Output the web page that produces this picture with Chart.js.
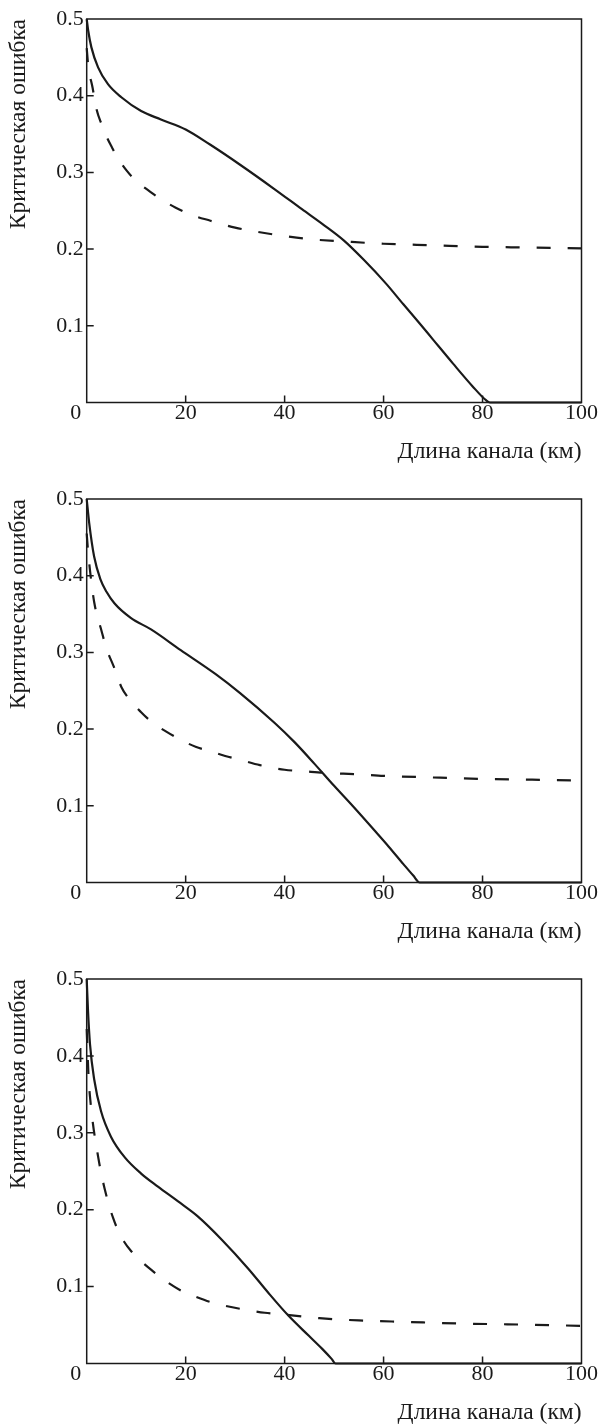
<!DOCTYPE html>
<html>
<head>
<meta charset="utf-8">
<script src="https://cdn.jsdelivr.net/npm/chart.js@4.4.1/dist/chart.umd.min.js"></script>
<style>
  body { margin: 0; background: #fff; }
  canvas { display: block; }
</style>
</head>
<body>
<canvas id="chart-1" width="598" height="480"></canvas>
<canvas id="chart-2" width="598" height="480"></canvas>
<canvas id="chart-3" width="598" height="465"></canvas>
<script>
// tick labels
var xTicks = [0, 20, 40, 60, 80, 100];
var yTicks = [0.1, 0.2, 0.3, 0.4, 0.5];

// panel 1
var km1Solid = [0, 0.3, 0.95, 2.3, 4.3, 7, 11, 15, 20, 25, 31, 38, 43.5, 48, 52, 56, 60.5, 64, 67.3, 70, 74, 78, 80.7, 81.5, 90, 100];
var err1Solid = [0.5, 0.485, 0.463, 0.437, 0.415, 0.398, 0.38, 0.369, 0.356, 0.336, 0.31, 0.278, 0.252, 0.231, 0.211, 0.186, 0.155, 0.128, 0.103, 0.082, 0.051, 0.021, 0.003, 0, 0, 0];
var km1Dash = [0, 0.3, 1.2, 2, 3, 4, 5, 6, 8, 10, 13, 15, 18, 21, 25, 30, 35, 40, 45, 52, 60, 70, 80, 90, 100];
var err1Dash = [0.462, 0.44, 0.41, 0.382, 0.363, 0.347, 0.334, 0.322, 0.303, 0.289, 0.274, 0.265, 0.254, 0.245, 0.237, 0.228, 0.222, 0.217, 0.213, 0.21, 0.207, 0.205, 0.203, 0.202, 0.201];

// panel 2
var km2Solid = [0, 0.5, 1.5, 2.8, 4, 5.6, 8.9, 13, 19, 26, 31, 38, 42, 46, 50, 54, 58, 61, 64, 66, 67.3, 80, 100];
var err2Solid = [0.5, 0.469, 0.425, 0.395, 0.379, 0.364, 0.345, 0.33, 0.303, 0.272, 0.247, 0.208, 0.183, 0.155, 0.126, 0.098, 0.069, 0.047, 0.024, 0.009, 0, 0, 0];
var km2Dash = [0, 0.3, 0.7, 1.5, 3, 4, 5.5, 7, 9, 11, 13, 16, 19, 22, 25, 28, 31, 35, 40, 44, 48, 55, 60, 70, 80, 90, 100];
var err2Dash = [0.455, 0.43, 0.405, 0.366, 0.328, 0.305, 0.281, 0.255, 0.236, 0.222, 0.21, 0.197, 0.186, 0.177, 0.171, 0.165, 0.16, 0.153, 0.147, 0.145, 0.143, 0.141, 0.139, 0.137, 0.135, 0.134, 0.133];

// panel 3
var km3Solid = [0, 0.27, 0.67, 1.5, 2.9, 4.9, 7.7, 11, 14.4, 18.4, 22.5, 27.3, 32.7, 36.7, 40.8, 44.9, 47.6, 49.5, 50.3, 70, 100];
var err3Solid = [0.5, 0.458, 0.415, 0.37, 0.328, 0.295, 0.268, 0.247, 0.23, 0.211, 0.191, 0.161, 0.123, 0.092, 0.062, 0.036, 0.019, 0.006, 0, 0, 0];
var km3Dash = [0, 0.2, 0.4, 0.8, 1.2, 1.7, 2.2, 2.9, 3.6, 4.5, 5.3, 6.2, 7.5, 9, 11, 13, 16, 19, 22, 25, 28, 32, 36, 41, 47, 55, 65, 75, 85, 100];
var err3Dash = [0.435, 0.4, 0.37, 0.338, 0.315, 0.292, 0.273, 0.248, 0.228, 0.206, 0.19, 0.175, 0.159, 0.146, 0.133, 0.122, 0.107, 0.095, 0.087, 0.08, 0.075, 0.07, 0.066, 0.063, 0.059, 0.056, 0.054, 0.052, 0.051, 0.049];

var ink = "#1a1a1a";
var serif = "'Liberation Serif', 'Times New Roman', serif";

function pairs(xs, ys) {
  return xs.map(function (x, i) {
    return { x: x, y: ys[i] };
  });
}

// frame round the plot, inward ticks and the "0" left of the origin
var framePlugin = {
  id: "frame",
  afterDatasetsDraw: function (chart) {
    var ctx = chart.ctx;
    var a = chart.chartArea;
    var xs = chart.scales.x;
    var ys = chart.scales.y;
    ctx.save();
    ctx.strokeStyle = ink;
    ctx.lineWidth = 1.5;
    ctx.strokeRect(a.left, a.top, a.right - a.left, a.bottom - a.top);
    ctx.beginPath();
    xTicks.forEach(function (v) {
      if (v <= xs.min || v >= xs.max) return;
      var px = xs.getPixelForValue(v);
      ctx.moveTo(px, a.bottom);
      ctx.lineTo(px, a.bottom - 7);
    });
    yTicks.forEach(function (v) {
      if (v <= ys.min || v >= ys.max) return;
      var py = ys.getPixelForValue(v);
      ctx.moveTo(a.left, py);
      ctx.lineTo(a.left + 7, py);
    });
    ctx.stroke();
    ctx.fillStyle = ink;
    ctx.font = "22px " + serif;
    ctx.textAlign = "center";
    ctx.textBaseline = "middle";
    ctx.fillText("0", a.left - 11, xs.top + 11);
    ctx.restore();
  },
};

function makePanel(id, kmSolid, errSolid, kmDash, errDash, bottomPad) {
  var ctx = document.getElementById(id).getContext("2d");
  new Chart(ctx, {
    type: "line",
    data: {
      datasets: [
        {
          data: pairs(kmSolid, errSolid),
          borderColor: ink,
          borderWidth: 2.2,
          pointRadius: 0,
          cubicInterpolationMode: "monotone",
          fill: false,
          clip: false,
        },
        {
          data: pairs(kmDash, errDash),
          borderColor: ink,
          borderWidth: 2.2,
          borderDash: [14, 17],
          pointRadius: 0,
          cubicInterpolationMode: "monotone",
          fill: false,
          clip: false,
        },
      ],
    },
    options: {
      responsive: false,
      animation: false,
      devicePixelRatio: 1,
      layout: {
        padding: { left: 1, top: 19, right: 0, bottom: bottomPad },
      },
      plugins: {
        legend: { display: false },
        tooltip: { enabled: false },
      },
      scales: {
        x: {
          type: "linear",
          min: xTicks[0],
          max: xTicks[xTicks.length - 1],
          border: { display: false },
          grid: { display: false, drawTicks: false },
          afterBuildTicks: function (scale) {
            scale.ticks = xTicks.map(function (v) { return { value: v }; });
          },
          ticks: {
            padding: 0,
            color: ink,
            font: { family: serif, size: 22, lineHeight: 1 },
            callback: function (v) {
              return v === 0 ? "" : v;
            },
          },
          title: {
            display: true,
            text: "Длина канала (км)",
            align: "end",
            color: ink,
            font: { family: serif, size: 23.5, lineHeight: 1 },
            padding: { top: 16, bottom: 0 },
          },
        },
        y: {
          type: "linear",
          min: 0,
          max: 0.5,
          border: { display: false },
          grid: { display: false, drawTicks: false },
          afterBuildTicks: function (scale) {
            scale.ticks = yTicks.map(function (v) { return { value: v }; });
          },
          ticks: {
            padding: 3,
            color: ink,
            font: { family: serif, size: 22, lineHeight: 1 },
            callback: function (v) {
              return v.toFixed(1);
            },
          },
          title: {
            display: true,
            text: "Критическая ошибка",
            align: "end",
            color: ink,
            font: { family: serif, size: 23.5 },
            padding: { top: 4, bottom: 20 },
          },
        },
      },
    },
    plugins: [framePlugin],
  });
}

makePanel("chart-1", km1Solid, err1Solid, km1Dash, err1Dash, 16);
makePanel("chart-2", km2Solid, err2Solid, km2Dash, err2Dash, 16);
makePanel("chart-3", km3Solid, err3Solid, km3Dash, err3Dash, 0);
</script>
</body>
</html>
